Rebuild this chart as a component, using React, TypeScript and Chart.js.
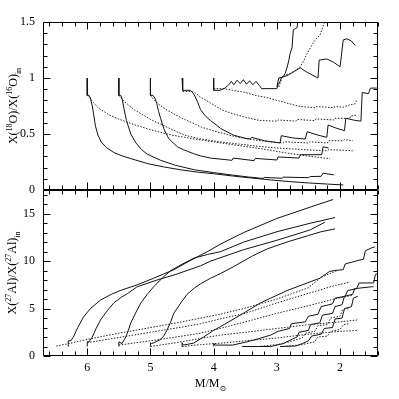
import React, { useEffect, useRef } from "react";
import { Chart, registerables } from "chart.js";
Chart.register(...registerables);

type Pt = [number, number];

const X_MIN = 1.4;
const X_MAX = 6.7;
const X_TICKS = [2, 3, 4, 5, 6];
const TOP_Y_TICKS = [0, 0.5, 1, 1.5];
const BOT_Y_TICKS = [0, 5, 10, 15];

// ---------- top panel: 18O/16O ----------
const top60Solid: Pt[] = [[6.0,1.0],[6.0,0.845],[5.97,0.845],[5.95,0.82],[5.92,0.75],[5.9,0.68],[5.87,0.57],[5.83,0.49],[5.78,0.43],[5.7,0.38],[5.58,0.335],[5.45,0.305],[5.31,0.28],[5.04,0.235],[4.78,0.205],[4.52,0.18],[4.26,0.16],[4.0,0.145],[3.7,0.125],[3.4,0.107],[3.1,0.09],[2.8,0.075],[2.5,0.063],[2.2,0.053],[1.95,0.045]];
const top55Solid: Pt[] = [[5.5,1.0],[5.5,0.845],[5.47,0.845],[5.45,0.82],[5.42,0.73],[5.38,0.62],[5.31,0.5],[5.23,0.42],[5.14,0.36],[5.05,0.32],[4.84,0.265],[4.6,0.22],[4.3,0.18],[4.0,0.155],[3.7,0.133],[3.45,0.116],[3.22,0.103],[3.2,0.112],[2.92,0.105],[2.9,0.115],[2.5,0.11],[2.47,0.12],[2.3,0.122],[2.27,0.15],[2.1,0.135]];
const top50Solid: Pt[] = [[5.0,1.0],[5.0,0.845],[4.96,0.845],[4.93,0.82],[4.9,0.77],[4.87,0.7],[4.84,0.64],[4.79,0.55],[4.75,0.5],[4.71,0.46],[4.64,0.42],[4.57,0.385],[4.48,0.36],[4.41,0.345],[4.32,0.325],[4.21,0.305],[4.05,0.285],[3.71,0.265],[3.69,0.285],[3.36,0.262],[3.34,0.282],[3.0,0.268],[2.98,0.295],[2.65,0.285],[2.63,0.315],[2.29,0.315],[2.27,0.385],[2.18,0.375]];
const top45Solid: Pt[] = [[4.5,1.0],[4.49,0.89],[4.37,0.89],[4.33,0.87],[4.29,0.83],[4.25,0.78],[4.21,0.72],[4.13,0.66],[4.05,0.62],[3.89,0.55],[3.69,0.49],[3.5,0.462],[3.42,0.455],[3.4,0.47],[3.2,0.44],[2.95,0.42],[2.93,0.485],[2.75,0.465],[2.55,0.455],[2.52,0.52],[2.35,0.49],[2.21,0.47],[2.19,0.58],[2.05,0.55],[1.93,0.53],[1.91,0.64],[1.75,0.62],[1.67,0.615],[1.65,0.87],[1.55,0.86],[1.52,0.91],[1.42,0.91]];
const top40Solid: Pt[] = [[4.0,1.0],[4.0,0.89],[3.9,0.89],[3.82,0.91],[3.76,0.94],[3.72,0.97],[3.68,0.94],[3.63,0.98],[3.58,0.95],[3.53,0.985],[3.48,0.945],[3.43,0.975],[3.38,0.94],[3.33,0.97],[3.28,0.935],[3.24,0.905],[3.0,0.905],[2.98,0.94],[2.95,0.97],[2.93,1.0],[2.89,1.02],[2.87,1.04],[2.84,1.09],[2.81,1.16],[2.79,1.22],[2.76,1.27],[2.74,1.43],[2.71,1.44],[2.68,1.45],[2.66,1.55]];
const top30Solid: Pt[] = [[3.0,0.92],[2.97,1.0],[2.84,1.02],[2.72,1.06],[2.63,1.09],[2.52,1.05],[2.35,1.0],[2.33,1.16],[2.21,1.17],[2.1,1.14],[2.0,1.1],[1.95,1.34],[1.89,1.35],[1.82,1.33],[1.76,1.29]];
const top60Dotted: Pt[] = [[6.0,0.845],[5.96,0.82],[5.9,0.78],[5.82,0.73],[5.65,0.67],[5.51,0.635],[5.24,0.58],[4.98,0.535],[4.66,0.49],[4.3,0.455],[4.0,0.43],[3.7,0.405],[3.4,0.38],[3.15,0.36],[2.9,0.335],[2.6,0.31],[2.4,0.295],[2.16,0.28]];
const top55Dotted: Pt[] = [[5.5,0.845],[5.45,0.81],[5.35,0.76],[5.24,0.71],[4.98,0.625],[4.66,0.54],[4.46,0.49],[4.2,0.455],[3.9,0.43],[3.6,0.41],[3.3,0.39],[3.0,0.375],[2.7,0.365],[2.4,0.355],[2.2,0.35],[2.18,0.36],[1.95,0.355],[1.8,0.35]];
const top50Dotted: Pt[] = [[5.0,0.845],[4.95,0.81],[4.88,0.77],[4.76,0.72],[4.6,0.67],[4.46,0.63],[4.3,0.59],[4.19,0.56],[3.98,0.525],[3.69,0.48],[3.4,0.45],[3.1,0.43],[2.9,0.42],[2.88,0.43],[2.5,0.42],[2.48,0.43],[2.2,0.42],[2.18,0.44],[1.95,0.44],[1.93,0.45],[1.8,0.44]];
const top45Dotted: Pt[] = [[4.49,0.88],[4.37,0.88],[4.3,0.87],[4.21,0.83],[4.0,0.76],[3.85,0.71],[3.69,0.68],[3.5,0.65],[3.27,0.62],[3.0,0.615],[2.98,0.625],[2.7,0.615],[2.68,0.63],[2.4,0.62],[2.38,0.635],[2.1,0.625],[2.08,0.64],[1.85,0.64],[1.83,0.66],[1.73,0.67]];
const top40Dotted: Pt[] = [[4.0,0.905],[3.85,0.905],[3.69,0.89],[3.5,0.87],[3.3,0.84],[3.15,0.825],[3.0,0.8],[2.8,0.77],[2.63,0.745],[2.4,0.735],[2.38,0.745],[2.1,0.735],[2.08,0.745],[1.95,0.74],[1.85,0.76],[1.76,0.77],[1.74,0.8]];
const top30Dotted: Pt[] = [[2.97,0.92],[2.92,1.0],[2.85,1.03],[2.79,1.04],[2.7,1.07],[2.63,1.1],[2.57,1.16],[2.52,1.22],[2.47,1.27],[2.43,1.31],[2.38,1.35],[2.32,1.38],[2.27,1.46],[2.24,1.52],[2.22,1.56]];

// ---------- bottom panel: 27Al ----------
const botASolid: Pt[] = [[6.3,1.0],[6.3,1.6],[6.26,1.6],[6.22,2.0],[6.15,3.0],[6.06,4.1],[5.95,5.0],[5.79,5.9],[5.62,6.5],[5.48,6.9],[5.21,7.5],[4.95,8.2],[4.63,9.1],[4.36,10.1],[4.1,11.0],[3.89,11.8],[3.53,13.0],[3.0,14.5],[2.47,15.7],[2.11,16.5]];
const botBSolid: Pt[] = [[6.0,1.0],[6.0,1.5],[5.97,1.5],[5.92,2.0],[5.86,2.9],[5.79,3.8],[5.68,4.8],[5.58,5.6],[5.46,6.2],[5.36,6.6],[5.21,7.3],[4.9,8.0],[4.6,8.6],[4.21,9.5],[4.05,10.0],[3.53,11.2],[3.0,12.2],[2.47,13.3],[2.27,14.0],[2.24,14.1]];
const botCSolid: Pt[] = [[5.5,1.0],[5.5,1.5],[5.45,1.3],[5.39,2.0],[5.35,2.7],[5.31,3.5],[5.23,4.6],[5.15,5.6],[5.05,6.5],[4.95,7.3],[4.8,8.3],[4.68,9.0],[4.52,9.6],[4.32,10.3],[4.1,10.7],[3.89,11.0],[3.53,12.0],[3.0,13.1],[2.47,14.0],[2.27,14.3],[2.08,14.6]];
const botDSolid: Pt[] = [[5.0,1.0],[5.0,1.4],[4.98,1.3],[4.85,1.7],[4.79,2.1],[4.74,2.7],[4.68,3.6],[4.63,4.5],[4.52,5.6],[4.42,6.5],[4.3,7.2],[4.21,7.6],[4.05,8.2],[3.89,8.7],[3.69,9.4],[3.4,10.5],[3.15,11.3],[2.8,12.1],[2.5,12.7],[2.3,13.1],[2.08,13.4]];
const botESolid: Pt[] = [[4.5,1.0],[4.5,1.4],[4.48,1.15],[4.32,1.35],[4.16,2.0],[4.0,2.7],[3.89,3.1],[3.53,4.5],[3.26,5.6],[3.0,6.4],[2.84,6.9],[2.52,7.7],[2.32,8.2],[2.17,8.9],[2.1,9.0],[1.95,9.1],[1.92,9.7],[1.7,10.1],[1.63,10.2],[1.6,11.1],[1.5,11.4],[1.45,11.5]];
const botFSolid: Pt[] = [[4.0,1.0],[4.0,1.35],[3.98,1.15],[3.7,1.15],[3.5,1.45],[3.3,1.8],[3.1,2.2],[2.98,2.6],[2.8,2.9],[2.77,3.4],[2.55,3.6],[2.5,4.2],[2.35,4.4],[2.3,5.2],[2.12,5.5],[2.08,6.1],[1.92,6.3],[1.88,6.9],[1.74,7.1],[1.7,7.7],[1.47,7.7],[1.44,8.6],[1.4,8.7]];
const botGSolid: Pt[] = [[3.55,1.0],[3.1,1.0],[2.9,1.3],[2.75,1.8],[2.68,2.0],[2.65,2.5],[2.5,2.7],[2.47,3.3],[2.32,3.5],[2.28,4.3],[2.12,4.5],[2.08,5.2],[1.97,5.4],[1.93,6.3],[1.8,6.5],[1.77,7.1],[1.5,7.3],[1.47,7.3]];
const botHSolid: Pt[] = [[2.95,1.0],[2.7,1.05],[2.6,1.3],[2.5,1.6],[2.45,2.1],[2.3,2.3],[2.25,2.9],[2.12,3.0],[2.08,3.9],[1.97,4.0],[1.93,5.0],[1.82,5.2],[1.79,6.1],[1.72,6.3]];
const bot1Dotted: Pt[] = [[6.49,1.05],[6.3,1.3],[6.0,1.75],[5.5,2.4],[5.0,3.0],[4.5,3.6],[4.21,4.0],[3.9,4.4],[3.53,5.0],[3.0,6.0],[2.5,7.2],[2.3,8.3],[2.05,9.0]];
const bot2Dotted: Pt[] = [[6.0,1.4],[5.5,1.95],[5.0,2.5],[4.5,3.05],[4.21,3.4],[3.9,3.9],[3.5,4.5],[3.0,5.6],[2.5,6.6],[2.1,7.4],[1.84,7.8]];
const bot3Dotted: Pt[] = [[5.5,1.15],[5.0,1.6],[4.5,2.1],[4.21,2.4],[3.9,2.9],[3.5,3.6],[3.0,4.5],[2.5,5.3],[2.1,6.0],[1.8,6.4]];
const bot4Dotted: Pt[] = [[5.0,1.0],[4.6,1.4],[4.21,1.85],[3.9,2.2],[3.5,2.5],[3.0,2.9],[2.5,3.3],[2.0,3.6],[1.73,3.8]];
const bot5Dotted: Pt[] = [[4.5,1.0],[4.21,1.2],[3.8,1.4],[3.5,1.6],[3.0,1.9],[2.5,2.3],[2.0,2.6],[1.73,2.7]];
const bot6Dotted: Pt[] = [[3.3,1.0],[3.0,1.2],[2.8,1.5],[2.6,1.9],[2.55,2.4],[2.4,2.6],[2.35,3.2],[2.2,3.3],[2.15,4.0],[2.0,4.2],[1.96,4.9],[1.85,5.0]];
const bot7Dotted: Pt[] = [[2.9,1.0],[2.6,1.2],[2.4,1.5],[2.35,2.0],[2.2,2.1],[2.15,2.6],[2.0,2.8],[1.95,3.3],[1.85,3.4]];

const TOP_SOLID = [top60Solid, top55Solid, top50Solid, top45Solid, top40Solid, top30Solid];
const TOP_DOTTED = [top60Dotted, top55Dotted, top50Dotted, top45Dotted, top40Dotted, top30Dotted];
const BOT_SOLID = [botASolid, botBSolid, botCSolid, botDSolid, botESolid, botFSolid, botGSolid, botHSolid];
const BOT_DOTTED = [bot1Dotted, bot2Dotted, bot3Dotted, bot4Dotted, bot5Dotted, bot6Dotted, bot7Dotted];

const FONT = "'Liberation Serif', 'DejaVu Serif', serif";

type Part = { t: string; s?: "sup" | "sub" };

function drawRich(ctx: CanvasRenderingContext2D, parts: Part[], cx: number, cy: number, rot: number, size: number) {
  ctx.save();
  ctx.translate(cx, cy);
  ctx.rotate(rot);
  const small = Math.round(size * 0.7);
  const fontFor = (p: Part) => `${p.s ? small : size}px ${FONT}`;
  const widths = parts.map((p) => {
    ctx.font = fontFor(p);
    return ctx.measureText(p.t).width;
  });
  const total = widths.reduce((a, b) => a + b, 0);
  let x = -total / 2;
  ctx.fillStyle = "#000";
  ctx.textBaseline = "alphabetic";
  ctx.textAlign = "left";
  parts.forEach((p, i) => {
    ctx.font = fontFor(p);
    const dy = p.s === "sup" ? -size * 0.4 : p.s === "sub" ? size * 0.28 : 0;
    ctx.fillText(p.t, x, size * 0.35 + dy);
    x += widths[i];
  });
  ctx.restore();
}

function framePlugin(yMinor: number, yMajor: number) {
  return {
    id: "frameTicks",
    afterDatasetsDraw(chart: any) {
      const { ctx, chartArea: a, scales } = chart;
      const xs = scales.x;
      const ys = scales.y;
      ctx.save();
      ctx.strokeStyle = "#000";
      ctx.lineWidth = 1;
      ctx.beginPath();
      const L = Math.round(a.left) + 0.5;
      const R = Math.round(a.right) - 0.5;
      const T = Math.round(a.top) + 0.5;
      const B = Math.round(a.bottom) - 0.5;
      ctx.rect(L, T, R - L, B - T);
      for (let i = Math.ceil(X_MIN / 0.2 - 1e-6); i * 0.2 <= X_MAX + 1e-6; i++) {
        const major = i % 5 === 0;
        const len = major ? 7 : 4;
        const px = Math.round(xs.getPixelForValue(i * 0.2)) + 0.5;
        ctx.moveTo(px, B);
        ctx.lineTo(px, B - len);
        ctx.moveTo(px, T);
        ctx.lineTo(px, T + len);
      }
      const ratio = Math.round(yMajor / yMinor);
      for (let i = Math.ceil(ys.min / yMinor - 1e-6); i * yMinor <= ys.max + 1e-6; i++) {
        const major = i % ratio === 0;
        const len = major ? 7 : 4;
        const py = Math.round(ys.getPixelForValue(i * yMinor)) + 0.5;
        ctx.moveTo(L, py);
        ctx.lineTo(L + len, py);
        ctx.moveTo(R, py);
        ctx.lineTo(R - len, py);
      }
      ctx.stroke();
      ctx.restore();
    },
  };
}

function titlePlugin(draw: (ctx: CanvasRenderingContext2D, chart: any) => void) {
  return {
    id: "richTitles",
    afterDraw(chart: any) {
      draw(chart.ctx, chart);
    },
  };
}

const toXY = (a: Pt[]) => a.map(([x, y]) => ({ x, y }));

function datasets(solid: Pt[][], dotted: Pt[][]) {
  const base = { pointRadius: 0, fill: false, tension: 0, showLine: true };
  return [
    ...dotted.map((d) => ({ ...base, data: toXY(d), borderColor: "#222", borderWidth: 1, borderDash: [1.5, 1.5] })),
    ...solid.map((d) => ({ ...base, data: toXY(d), borderColor: "#111", borderWidth: 1 })),
  ];
}

const tickFont = { family: FONT, size: 12 };

export default function App() {
  const topRef = useRef<HTMLCanvasElement>(null);
  const botRef = useRef<HTMLCanvasElement>(null);

  useEffect(() => {
    const yAxis = (min: number, max: number, ticks: number[]) => ({
      type: "linear" as const,
      min,
      max,
      afterBuildTicks: (s: any) => {
        s.ticks = ticks.map((v) => ({ value: v }));
      },
      afterFit: (s: any) => {
        s.width = 43;
        s.paddingTop = 0;
        s.paddingBottom = 0;
      },
      grid: { display: false, drawTicks: false },
      border: { display: false },
      ticks: { padding: 8, font: tickFont, color: "#000", callback: (v: any) => String(v) },
    });

    const top = new Chart(topRef.current!, {
      type: "line",
      data: { datasets: datasets(TOP_SOLID, TOP_DOTTED) as any },
      options: {
        animation: false,
        responsive: false,
        maintainAspectRatio: false,
        layout: { padding: { left: 0, right: 21, top: 22, bottom: 10 } },
        plugins: { legend: { display: false }, tooltip: { enabled: false } },
        scales: {
          x: { type: "linear", min: X_MIN, max: X_MAX, reverse: true, display: false },
          y: yAxis(0, 1.5, TOP_Y_TICKS) as any,
        },
      },
      plugins: [
        framePlugin(0.1, 0.5),
        titlePlugin((ctx, chart) => {
          const a = chart.chartArea;
          drawRich(ctx, [{ t: "X(" }, { t: "18", s: "sup" }, { t: "O)/X(" }, { t: "16", s: "sup" }, { t: "O)" }, { t: "in", s: "sub" }], 13, (a.top + a.bottom) / 2, -Math.PI / 2, 12);
        }),
      ],
    });

    const bot = new Chart(botRef.current!, {
      type: "line",
      data: { datasets: datasets(BOT_SOLID, BOT_DOTTED) as any },
      options: {
        animation: false,
        responsive: false,
        maintainAspectRatio: false,
        layout: { padding: { left: 0, right: 21, top: 0, bottom: 0 } },
        plugins: { legend: { display: false }, tooltip: { enabled: false } },
        scales: {
          x: {
            type: "linear",
            min: X_MIN,
            max: X_MAX,
            reverse: true,
            afterBuildTicks: (s: any) => {
              s.ticks = X_TICKS.map((v) => ({ value: v }));
            },
            afterFit: (s: any) => {
              s.height = 43;
              s.paddingLeft = 0;
              s.paddingRight = 0;
            },
            grid: { display: false, drawTicks: false },
            border: { display: false },
            ticks: { padding: 5, font: tickFont, color: "#000", maxRotation: 0, autoSkip: false, callback: (v: any) => String(v) },
          } as any,
          y: yAxis(0, 17.5, BOT_Y_TICKS) as any,
        },
      },
      plugins: [
        framePlugin(1, 5),
        titlePlugin((ctx, chart) => {
          const a = chart.chartArea;
          drawRich(ctx, [{ t: "X(" }, { t: "27", s: "sup" }, { t: "Al)/X(" }, { t: "27", s: "sup" }, { t: "Al)" }, { t: "in", s: "sub" }], 12, (a.top + a.bottom) / 2, -Math.PI / 2, 12);
          drawRich(ctx, [{ t: "M/M" }, { t: "\u2299", s: "sub" }], (a.left + a.right) / 2, 193, 0, 12);
        }),
      ],
    });

    return () => {
      top.destroy();
      bot.destroy();
    };
  }, []);

  return (
    <div style={{ position: "fixed", left: 0, top: 0, width: 399, height: 399, background: "#fff" }}>
      <canvas ref={topRef} width={399} height={200} style={{ position: "absolute", left: 0, top: 0, width: 399, height: 200, display: "block" }} />
      <canvas ref={botRef} width={399} height={209} style={{ position: "absolute", left: 0, top: 190, width: 399, height: 209, display: "block" }} />
    </div>
  );
}
